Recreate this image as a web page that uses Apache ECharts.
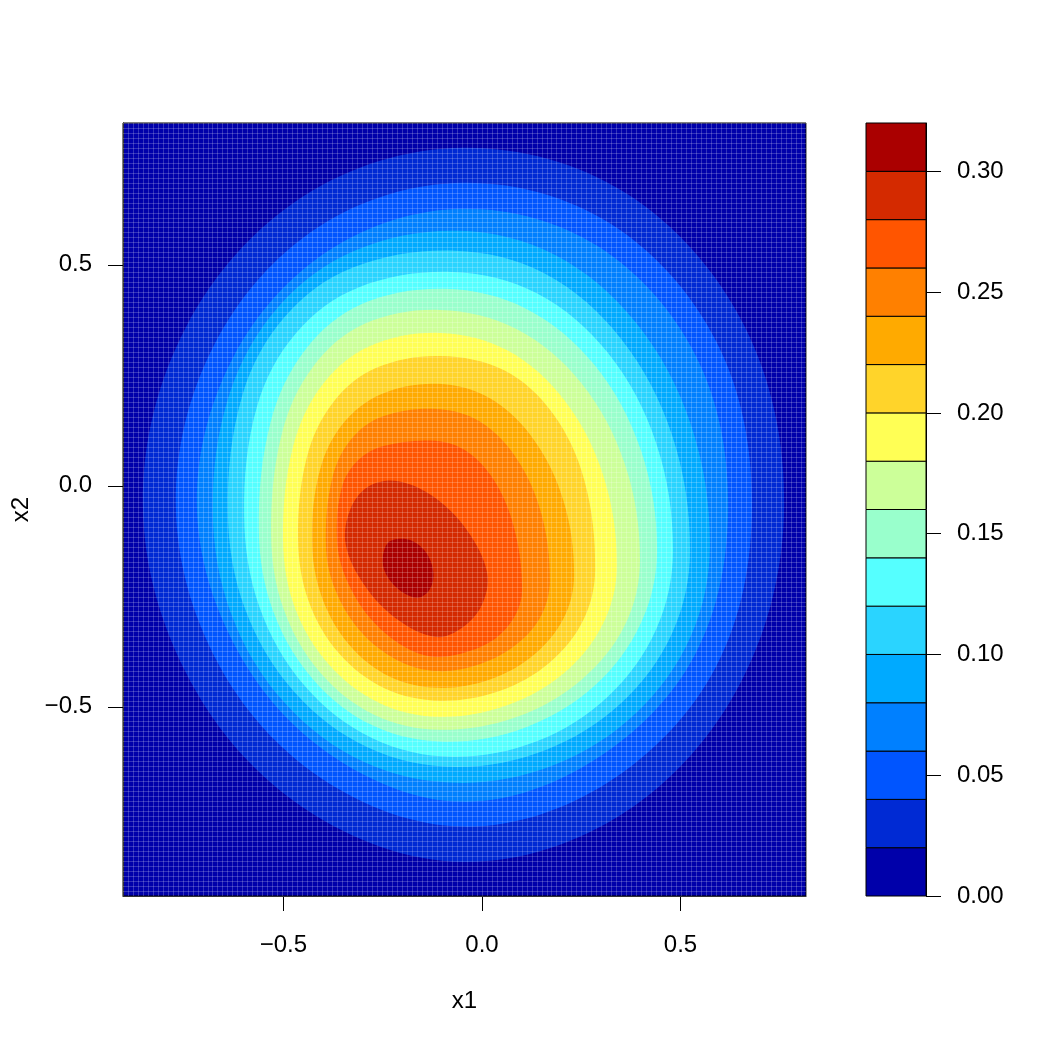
<!DOCTYPE html>
<html><head><meta charset="utf-8">
<script src="https://cdn.jsdelivr.net/npm/echarts@6/dist/echarts.min.js"></script>
<style>html,body{margin:0;padding:0;background:#fff}#c{width:1050px;height:1050px}</style>
</head><body><div id="c"></div>
<script>
// Contour levels (density) and the fill colour of each band between them
const levels = [0.00, 0.02, 0.04, 0.06, 0.08, 0.10, 0.12, 0.14, 0.16, 0.18, 0.20, 0.22, 0.24, 0.26, 0.28, 0.30, 0.32];
const bandColors = ['#0000AA','#002AD4','#0055FF','#0080FF','#00AAFF','#2AD4FF','#55FFFF','#99FFCC',
                    '#CCFF99','#FFFF55','#FFD42A','#FFAA00','#FF8000','#FF5500','#D42A00','#AA0000'];
const xTicks = [-0.5, 0.0, 0.5];
const yTicks = [-0.5, 0.0, 0.5];
const barTicks = [0.00, 0.05, 0.10, 0.15, 0.20, 0.25, 0.30];
const xRange = [-0.904, 0.816];
const yRange = [-0.928, 0.821];

// Contour lines, as (x1, x2) points
const contour_002 = [[-0.047,0.765],[0.361,0.663],[0.659,0.365],[0.761,-0.043],[0.651,-0.446],[0.356,-0.741],[-0.047,-0.851],[-0.445,-0.731],[-0.735,-0.441],[-0.854,-0.043],[-0.745,0.360],[-0.450,0.655]];
const contour_004 = [[-0.046,0.686],[0.322,0.594],[0.591,0.325],[0.680,-0.043],[0.590,-0.408],[0.317,-0.671],[-0.046,-0.771],[-0.404,-0.662],[-0.665,-0.401],[-0.771,-0.043],[-0.674,0.320],[-0.410,0.587]];
const contour_006 = [[-0.049,0.627],[0.290,0.543],[0.538,0.295],[0.620,-0.044],[0.537,-0.381],[0.284,-0.620],[-0.049,-0.715],[-0.377,-0.611],[-0.616,-0.372],[-0.718,-0.044],[-0.627,0.290],[-0.383,0.534]];
const contour_008 = [[-0.060,0.577],[0.183,0.523],[0.388,0.369],[0.526,0.139],[0.574,-0.133],[0.526,-0.340],[0.388,-0.514],[0.183,-0.631],[-0.060,-0.672],[-0.297,-0.625],[-0.497,-0.491],[-0.631,-0.291],[-0.678,-0.054],[-0.635,0.210],[-0.511,0.407],[-0.318,0.533]];
const contour_010 = [[-0.068,0.532],[0.159,0.480],[0.350,0.333],[0.479,0.114],[0.524,-0.145],[0.479,-0.333],[0.350,-0.492],[0.159,-0.598],[-0.068,-0.636],[-0.287,-0.592],[-0.472,-0.467],[-0.596,-0.280],[-0.640,-0.059],[-0.603,0.206],[-0.496,0.383],[-0.325,0.494]];
const contour_012 = [[-0.076,0.484],[0.138,0.436],[0.318,0.300],[0.439,0.096],[0.481,-0.145],[0.439,-0.324],[0.318,-0.476],[0.138,-0.578],[-0.076,-0.613],[-0.276,-0.571],[-0.446,-0.453],[-0.560,-0.275],[-0.599,-0.066],[-0.566,0.181],[-0.468,0.346],[-0.311,0.449]];
const contour_014 = [[-0.093,0.446],[0.111,0.401],[0.284,0.273],[0.400,0.081],[0.441,-0.145],[0.400,-0.311],[0.284,-0.452],[0.111,-0.546],[-0.093,-0.579],[-0.273,-0.543],[-0.424,-0.439],[-0.526,-0.283],[-0.562,-0.100],[-0.532,0.145],[-0.444,0.309],[-0.304,0.411]];
const contour_016 = [[-0.106,0.398],[0.087,0.355],[0.250,0.233],[0.360,0.049],[0.398,-0.167],[0.360,-0.315],[0.250,-0.439],[0.087,-0.523],[-0.106,-0.552],[-0.269,-0.519],[-0.407,-0.423],[-0.499,-0.280],[-0.531,-0.111],[-0.504,0.118],[-0.425,0.270],[-0.297,0.366]];
const contour_018 = [[-0.106,0.346],[0.065,0.306],[0.209,0.192],[0.306,0.022],[0.340,-0.179],[0.306,-0.310],[0.209,-0.422],[0.065,-0.496],[-0.106,-0.523],[-0.257,-0.492],[-0.385,-0.405],[-0.471,-0.276],[-0.501,-0.122],[-0.476,0.088],[-0.402,0.229],[-0.283,0.316]];
const contour_020 = [[-0.106,0.294],[0.057,0.261],[0.179,0.163],[0.258,0.012],[0.285,-0.190],[0.255,-0.304],[0.170,-0.400],[0.044,-0.464],[-0.106,-0.486],[-0.243,-0.459],[-0.359,-0.380],[-0.436,-0.262],[-0.463,-0.122],[-0.441,0.065],[-0.374,0.190],[-0.266,0.267]];
const contour_022 = [[-0.111,0.231],[0.020,0.198],[0.131,0.104],[0.206,-0.036],[0.232,-0.201],[0.206,-0.299],[0.131,-0.382],[0.020,-0.438],[-0.111,-0.457],[-0.232,-0.432],[-0.335,-0.359],[-0.404,-0.250],[-0.428,-0.122],[-0.408,0.036],[-0.349,0.142],[-0.253,0.208]];
const contour_024 = [[-0.113,0.174],[-0.004,0.145],[0.088,0.061],[0.150,-0.064],[0.171,-0.213],[0.150,-0.292],[0.088,-0.358],[-0.004,-0.403],[-0.113,-0.419],[-0.212,-0.395],[-0.306,-0.329],[-0.370,-0.234],[-0.393,-0.133],[-0.377,0.018],[-0.330,0.105],[-0.251,0.157]];
const contour_026 = [[-0.118,0.102],[-0.035,0.076],[0.037,0.003],[0.084,-0.106],[0.101,-0.235],[0.084,-0.293],[0.037,-0.343],[-0.035,-0.375],[-0.118,-0.387],[-0.198,-0.363],[-0.283,-0.298],[-0.343,-0.208],[-0.365,-0.122],[-0.353,-0.004],[-0.314,0.056],[-0.248,0.090]];
const contour_028 = [[-0.214,0.011],[-0.118,-0.027],[-0.035,-0.104],[0.013,-0.197],[0.000,-0.269],[-0.050,-0.321],[-0.116,-0.342],[-0.212,-0.303],[-0.295,-0.226],[-0.343,-0.133],[-0.332,-0.054],[-0.287,-0.002]];
const contour_030 = [[-0.214,-0.120],[-0.176,-0.124],[-0.144,-0.147],[-0.126,-0.179],[-0.123,-0.213],[-0.136,-0.240],[-0.161,-0.253],[-0.194,-0.244],[-0.227,-0.219],[-0.247,-0.188],[-0.249,-0.156],[-0.237,-0.129]];

const contours = [contour_002, contour_004, contour_006, contour_008, contour_010, contour_012, contour_014,
                  contour_016, contour_018, contour_020, contour_022, contour_024, contour_026, contour_028, contour_030];

const FONT = '"Liberation Sans", Arial, Helvetica, sans-serif';
const fmt1 = v => (v < 0 ? '\u2212' : '') + Math.abs(v).toFixed(1);
const fmt2 = v => Math.abs(v).toFixed(2);
const tickStyle = {show: true, length: 15, inside: false, lineStyle: {color: '#000', width: 1}};

const chart = echarts.init(document.getElementById('c'), null, {renderer: 'canvas'});
const option = {
  animation: false,
  backgroundColor: '#ffffff',
  grid: [
    {left: 123, top: 123, width: 683, height: 773, show: true, backgroundColor: bandColors[0], borderColor: '#000', borderWidth: 1},
    {left: 866, top: 123, width: 60, height: 773, show: false}
  ],
  xAxis: [
    {type: 'value', gridIndex: 0, min: xRange[0], max: xRange[1], position: 'bottom',
     axisLine: {show: true, onZero: false, lineStyle: {color: '#000', width: 1}}, splitLine: {show: false},
     axisTick: Object.assign({customValues: xTicks}, tickStyle),
     axisLabel: {customValues: xTicks, formatter: fmt1, fontSize: 24, fontFamily: FONT, color: '#000', margin: 37},
     name: 'x1', nameLocation: 'middle', nameGap: 93, nameTextStyle: {fontSize: 24, fontFamily: FONT, color: '#000'}},
    {type: 'value', gridIndex: 0, min: 0, max: 137, interval: 1, position: 'top', z: 5,
     axisLine: {show: false}, axisTick: {show: false}, axisLabel: {show: false},
     splitLine: {show: true, lineStyle: {color: 'rgba(255,255,255,0.2)', width: 1}}},
    {type: 'value', gridIndex: 1, min: 0, max: 1, show: false}
  ],
  yAxis: [
    {type: 'value', gridIndex: 0, min: yRange[0], max: yRange[1], position: 'left',
     axisLine: {show: true, onZero: false, lineStyle: {color: '#000', width: 1}}, splitLine: {show: false},
     axisTick: Object.assign({customValues: yTicks}, tickStyle),
     axisLabel: {customValues: yTicks, formatter: fmt1, fontSize: 24, fontFamily: FONT, color: '#000', margin: 31},
     name: 'x2', nameLocation: 'middle', nameGap: 89, nameTextStyle: {fontSize: 24, fontFamily: FONT, color: '#000'}},
    {type: 'value', gridIndex: 0, min: 0, max: 155, interval: 1, position: 'right', z: 5,
     axisLine: {show: false}, axisTick: {show: false}, axisLabel: {show: false},
     splitLine: {show: true, lineStyle: {color: 'rgba(255,255,255,0.2)', width: 1}}},
    {type: 'value', gridIndex: 1, min: levels[0], max: levels[levels.length - 1], position: 'right',
     axisLine: {show: true, onZero: false, lineStyle: {color: '#000', width: 1}}, splitLine: {show: false},
     axisTick: Object.assign({customValues: barTicks}, tickStyle),
     axisLabel: {customValues: barTicks, formatter: fmt2, fontSize: 24, fontFamily: FONT, color: '#000', margin: 31}}
  ],
  series: [
    {
      type: 'custom', xAxisIndex: 0, yAxisIndex: 0, clip: true,
      data: contours.map((c, i) => [c[0][0], c[0][1], levels[i + 1]]),
      renderItem: function (params, api) {
        const idx = params.dataIndex;
        const pts = contours[idx].map(p => api.coord(p));
        return {
          type: 'polygon',
          shape: {points: pts, smooth: 0.35},
          style: {fill: bandColors[idx + 1], stroke: null}
        };
      }
    },
    {
      type: 'custom', xAxisIndex: 2, yAxisIndex: 2,
      data: levels.slice(0, -1).map((lo, i) => [0, lo, levels[i + 1]]),
      renderItem: function (params, api) {
        const i = params.dataIndex;
        const p0 = api.coord([0, api.value(1)]);
        const p1 = api.coord([1, api.value(2)]);
        return {
          type: 'rect',
          shape: {x: p0[0], y: p1[1], width: p1[0] - p0[0], height: p0[1] - p1[1]},
          style: {fill: bandColors[i], stroke: '#000', lineWidth: 1}
        };
      }
    }
  ]
};
chart.setOption(option);
</script>
</body></html>
